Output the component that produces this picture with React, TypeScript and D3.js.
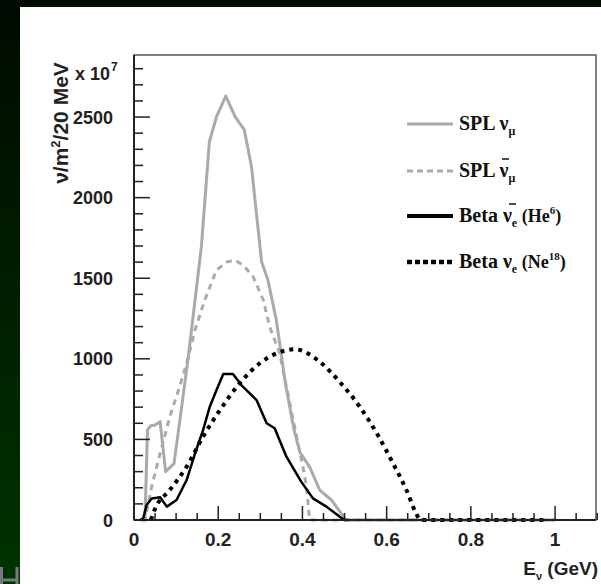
import React from "react";
import * as d3 from "d3";

// ---- data (E in GeV, flux in 1e7 nu/m^2/20 MeV) ----
const splNuMu: [number, number][] = [
  [0.015, 0], [0.026, 0], [0.032, 560], [0.04, 585], [0.05, 590], [0.062, 610],
  [0.075, 300], [0.095, 350], [0.11, 640], [0.129, 1013], [0.145, 1365],
  [0.16, 1696], [0.179, 2347], [0.196, 2502], [0.218, 2630], [0.24, 2502],
  [0.262, 2420], [0.279, 2192], [0.303, 1602], [0.318, 1489], [0.338, 1240],
  [0.36, 840], [0.38, 560], [0.394, 420], [0.417, 330], [0.441, 186],
  [0.469, 124], [0.492, 41], [0.504, 0], [1.0, 0],
];
const splAntiNuMu: [number, number][] = [
  [0.02, 0], [0.026, 0], [0.042, 207], [0.062, 414], [0.085, 641], [0.105, 800],
  [0.125, 972], [0.145, 1180], [0.168, 1365], [0.196, 1551], [0.22, 1600],
  [0.2395, 1613], [0.26, 1580], [0.283, 1509], [0.307, 1365], [0.322, 1200],
  [0.346, 1034], [0.378, 620], [0.401, 331], [0.41, 200], [0.417, 0], [1.0, 0],
];
const betaHe6: [number, number][] = [
  [0.015, 0], [0.022, 12], [0.03, 93], [0.042, 134], [0.062, 141], [0.078, 83],
  [0.101, 124], [0.125, 248], [0.145, 414], [0.164, 558], [0.18, 703],
  [0.195, 800], [0.212, 906], [0.235, 906], [0.255, 837], [0.291, 744],
  [0.315, 600], [0.334, 569], [0.362, 393], [0.397, 238], [0.425, 134],
  [0.457, 83], [0.488, 21], [0.5, 0], [0.51, 0],
];
const betaNe18: [number, number][] = [
  [0.04, 0], [0.05, 70], [0.085, 186], [0.125, 331], [0.164, 517], [0.204, 682],
  [0.251, 848], [0.3, 975], [0.34, 1035], [0.382, 1059], [0.441, 982],
  [0.488, 858], [0.536, 703], [0.579, 527], [0.615, 352], [0.647, 186],
  [0.67, 41], [0.68, 0], [0.98, 0],
];

const xMajorTicks = [0, 0.2, 0.4, 0.6, 0.8, 1];
const xTickLabels = ["0", "0.2", "0.4", "0.6", "0.8", "1"];
const yMajorTicks = [0, 500, 1000, 1500, 2000, 2500];
const yTickLabels = ["0", "500", "1000", "1500", "2000", "2500"];

const X0 = 134, X1 = 596, Y0 = 520, Y1 = 55;

export default function App() {
  const x = d3.scaleLinear().domain([0, 1.1]).range([X0, X1 + 1.2]);
  const y = d3.scaleLinear().domain([0, 2885]).range([Y0, Y1]);
  const lin = d3.line<[number, number]>().x((d) => x(d[0])).y((d) => y(d[1]));
  const smooth = d3
    .line<[number, number]>()
    .x((d) => x(d[0]))
    .y((d) => y(d[1]))
    .curve(d3.curveMonotoneX);

  const xMinor = d3.range(0, 1.1001, 0.05);
  const yMinor = d3.range(0, 2801, 100);

  const sans = "'Liberation Sans', Arial, sans-serif";
  const serif = "'Liberation Serif', 'Times New Roman', serif";

  const legend = [
    { color: "#aaaaaa", w: 3, dash: undefined as string | undefined, main: "SPL ", nu: "ν", bar: false, sub: "μ", extra: "", sup: "" },
    { color: "#aaaaaa", w: 3, dash: "6,4", main: "SPL ", nu: "ν", bar: true, sub: "μ", extra: "", sup: "" },
    { color: "#000000", w: 4, dash: undefined, main: "Beta ", nu: "ν", bar: true, sub: "e", extra: " (He", sup: "6" },
    { color: "#000000", w: 4.5, dash: "5,3", main: "Beta ", nu: "ν", bar: false, sub: "e", extra: " (Ne", sup: "18" },
  ];
  const legendY = [124, 171, 216, 262];

  return (
    <div style={{ position: "fixed", left: 0, top: 0, width: 601, height: 584 }}>
      <svg width={601} height={584} style={{ position: "absolute", left: 0, top: 0 }}>
        <defs>
          <linearGradient id="bgL" x1="0" y1="0" x2="0" y2="1">
            <stop offset="0" stopColor="#000a00" />
            <stop offset="1" stopColor="#003300" />
          </linearGradient>
        </defs>
        <rect x={0} y={0} width={601} height={584} fill="url(#bgL)" />
        <rect x={0} y={0} width={601} height={7} fill="#000a00" />
        <rect x={20} y={7} width={581} height={577} fill="#ffffff" />
        {/* small logo fragment bottom-left */}
        <path d="M1.5,567 V584 M0,580 H18 M17,567 V584" stroke="#7a7a7a" strokeWidth={3} fill="none" />

        {/* curves */}
        <path d={lin(splNuMu) || ""} fill="none" stroke="#aaaaaa" strokeWidth={3} strokeLinejoin="round" />
        <path d={lin(splAntiNuMu) || ""} fill="none" stroke="#aaaaaa" strokeWidth={3} strokeDasharray="6,5" />
        <path d={lin(betaHe6) || ""} fill="none" stroke="#000" strokeWidth={2.5} strokeLinejoin="round" />
        <path d={smooth(betaNe18) || ""} fill="none" stroke="#000" strokeWidth={4} strokeDasharray="4,5" />

        {/* frame */}
        <rect x={X0} y={Y1} width={X1 - X0} height={Y0 - Y1} fill="none" stroke="#555" strokeWidth={1.5} />
        <line x1={X0} x2={X0} y1={Y1} y2={Y0} stroke="#222" strokeWidth={2} />
        <line x1={X0} x2={X1} y1={Y0} y2={Y0} stroke="#222" strokeWidth={2} />

        {/* x ticks */}
        {xMinor.map((t, i) => {
          const major = Math.abs(t / 0.2 - Math.round(t / 0.2)) < 1e-6;
          return (
            <line key={"xm" + i} x1={x(t)} x2={x(t)} y1={Y0} y2={Y0 - (major ? 14 : 7)} stroke="#222" strokeWidth={1.5} />
          );
        })}
        {xMajorTicks.map((t, i) => (
          <text key={"xl" + i} x={x(t)} y={546} textAnchor="middle" fontFamily={sans} fontWeight="bold" fontSize={19} fill="#222">
            {xTickLabels[i]}
          </text>
        ))}

        {/* y ticks */}
        {yMinor.map((t, i) => {
          const major = t % 500 === 0;
          return (
            <line key={"ym" + i} x1={X0} x2={X0 + (major ? 16 : 9)} y1={y(t)} y2={y(t)} stroke="#222" strokeWidth={1.5} />
          );
        })}
        {yMajorTicks.map((t, i) => (
          <text key={"yl" + i} x={113} y={y(t) + 6.5} textAnchor="end" fontFamily={sans} fontWeight="bold" fontSize={18} fill="#222">
            {yTickLabels[i]}
          </text>
        ))}

        {/* multiplier */}
        <text x={75} y={80} fontFamily={sans} fontWeight="bold" fontSize={18} fill="#222">
          x 10
        </text>
        <text x={111} y={71} fontFamily={sans} fontWeight="bold" fontSize={12} fill="#222">
          7
        </text>

        {/* y axis title */}
        <g transform="translate(68,123) rotate(-90)">
          <text x={0} y={0} textAnchor="middle" fontFamily={sans} fontWeight="bold" fontSize={21} fill="#222">
            ν/m<tspan dy={-8} fontSize={13}>2</tspan>
            <tspan dy={8}>/20 MeV</tspan>
          </text>
        </g>

        {/* x axis title */}
        <text x={598} y={575} textAnchor="end" fontFamily={sans} fontWeight="bold" fontSize={19} fill="#222">
          E<tspan dy={5} fontSize={11}>ν</tspan>
          <tspan dy={-5}> (GeV)</tspan>
        </text>

        {/* legend */}
        {legend.map((l, i) => {
          const ly = legendY[i];
          return (
            <g key={"lg" + i}>
              <line x1={407} x2={453} y1={ly} y2={ly} stroke={l.color} strokeWidth={l.w} strokeDasharray={l.dash} />
              <text x={459} y={ly + 6} fontFamily={serif} fontWeight="bold" fontSize={20} fill="#111">
                {l.main}
                <tspan>{l.nu}</tspan>
                <tspan dy={5} fontSize={12}>{l.sub}</tspan>
                {l.extra ? <tspan dy={-5} fontSize={18}>{l.extra}</tspan> : null}
                {l.sup ? <tspan dy={-8} fontSize={11}>{l.sup}</tspan> : null}
                {l.sup ? <tspan dy={8} fontSize={18}>)</tspan> : null}
              </text>
            </g>
          );
        })}
        {/* overbars for anti-neutrinos */}
        {legend.map((l, i) => {
          if (!l.bar) return null;
          const ly = legendY[i];
          const bx = i === 1 ? 459 + 43 : 459 + 50;
          return <line key={"bar" + i} x1={bx} x2={bx + 7} y1={ly - 12} y2={ly - 12} stroke="#111" strokeWidth={1.5} />;
        })}
      </svg>
    </div>
  );
}
